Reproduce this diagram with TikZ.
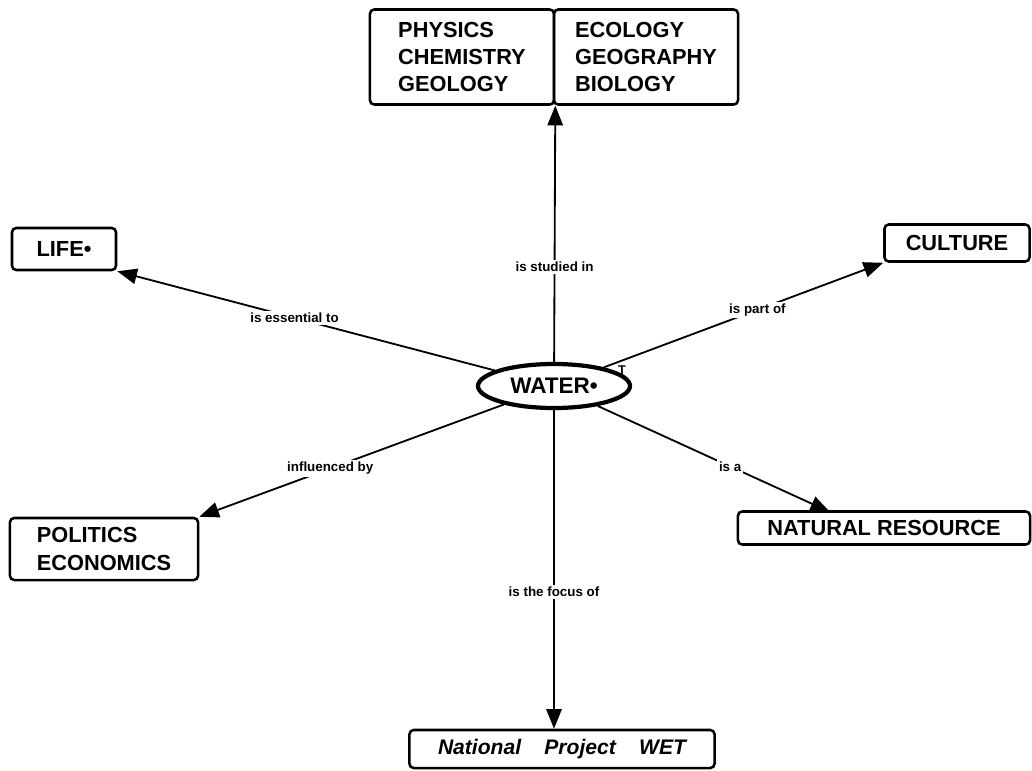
\documentclass[tikz,border=0pt]{standalone}
\usepackage{fontspec}
\setmainfont{Liberation Sans}
\usetikzlibrary{arrows.meta,shapes.geometric,positioning}

\begin{document}
\begin{tikzpicture}[x=0.025cm,y=-0.025cm,
    concept/.style={draw,line width=1.8pt,rounded corners=3pt,inner sep=0pt,
      align=left,font=\bfseries\fontsize{15.5}{19.5}\selectfont},
    link/.style={line width=1.3pt,-{Triangle[length=14pt,width=11pt]}},
    lbl/.style={fill=white,inner sep=1.5pt,font=\bfseries\fontsize{9.5}{11}\selectfont}]
    \useasboundingbox (0,0) rectangle (1032,770);
    % concepts
    \node[draw,ellipse,line width=3pt,inner sep=0pt,minimum width=3.8cm,minimum height=1.1cm,
      font=\bfseries\fontsize{16}{20}\selectfont] at (554,386) (water) {WATER•};
    \node[font=\bfseries\fontsize{9}{10}\selectfont,inner sep=0pt] at (622,370) (tag) {T};
    \node[concept,minimum width=4.6cm,minimum height=2.375cm] at (462,57) (sciA) {PHYSICS\\CHEMISTRY\\GEOLOGY};
    \node[concept,minimum width=4.6cm,minimum height=2.375cm] at (646,57) (sciB) {ECOLOGY\\GEOGRAPHY\\BIOLOGY};
    \node[concept,minimum width=2.6cm,minimum height=1.05cm] at (64,249) (life) {LIFE•};
    \node[concept,minimum width=3.625cm,minimum height=0.925cm] at (957,243) (culture) {CULTURE};
    \node[concept,minimum width=4.7cm,minimum height=1.55cm] at (104,549) (politics) {POLITICS\\ECONOMICS};
    \node[concept,minimum width=7.3cm,minimum height=0.825cm] at (884,528) (resource) {NATURAL RESOURCE};
    \node[concept,minimum width=7.625cm,minimum height=0.95cm,font=\bfseries\itshape\fontsize{15}{19}\selectfont]
      at (562,749) (wet) {National\hspace{1.1em}Project\hspace{1.1em}WET};
    \coordinate (rtop) at (830,512);
    % links
    \draw[link] (water) -- (sciA.south east) node[lbl,pos=0.37] {is studied in};
    \draw[link] (water) -- (life.south east) node[lbl,pos=0.53] {is essential to};
    \draw[link] (water) -- (culture.south west) node[lbl,pos=0.55] {is part of};
    \draw[link] (water) -- (politics.north east) node[lbl,pos=0.57] {influenced by};
    \draw[link] (water) -- (rtop) node[lbl,pos=0.57] {is a};
    \draw[link] (water) -- (wet.north -| water) node[lbl,pos=0.57] {is the focus of};
\end{tikzpicture}
\end{document}
